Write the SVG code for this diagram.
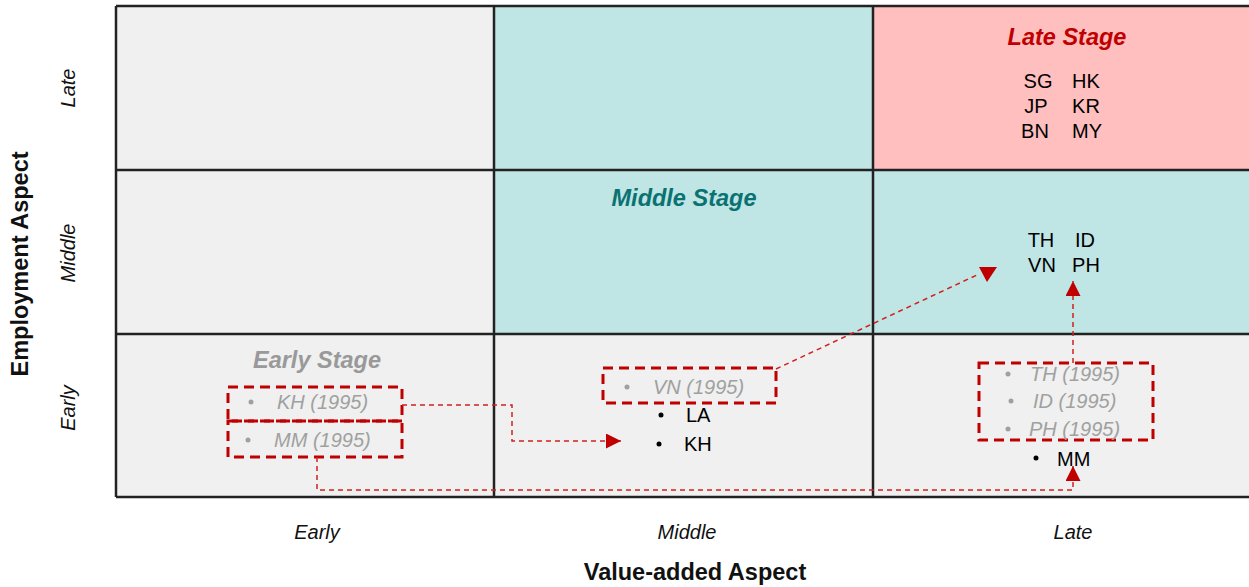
<svg xmlns="http://www.w3.org/2000/svg" width="1249" height="587" viewBox="0 0 1249 587">
<defs>
<style>
.cell-g{fill:#eff0ef}
.cell-t{fill:#bfe5e4}
.cell-p{fill:#ffbfbf}
.grid{stroke:#222;stroke-width:2.5;fill:none}
.t{font-family:"Liberation Sans",Arial,sans-serif;font-size:20px;fill:#000}
.ax{font-family:"Liberation Sans",Arial,sans-serif;font-size:20px;font-style:italic;fill:#111;text-anchor:middle}
.axt{font-family:"Liberation Sans",Arial,sans-serif;font-size:23.5px;font-weight:bold;fill:#111;text-anchor:middle}
.stage{font-family:"Liberation Sans",Arial,sans-serif;font-size:23.5px;font-weight:bold;font-style:italic;text-anchor:middle}
.old{font-family:"Liberation Sans",Arial,sans-serif;font-size:20px;font-style:italic;fill:#a0a0a0}
.box{fill:none;stroke:#c00000;stroke-width:3;stroke-dasharray:10 6}
.conn{fill:none;stroke:#d02020;stroke-width:1.5;stroke-dasharray:5 4}
.dot{fill:#000}
.gdot{fill:#a0a0a0}
</style>
<marker id="ah" viewBox="0 0 10 10" refX="10" refY="5" markerWidth="15" markerHeight="15" markerUnits="userSpaceOnUse" orient="auto">
<path d="M0,0 L10,5 L0,10 Z" fill="#c00000"/>
</marker>
</defs>

<g id="grid">
<rect class="cell-g" x="116" y="6" width="378" height="164"/>
<rect class="cell-t" x="494" y="6" width="379" height="164"/>
<rect class="cell-p" x="873" y="6" width="380" height="164"/>
<rect class="cell-g" x="116" y="170" width="378" height="164"/>
<rect class="cell-t" x="494" y="170" width="379" height="164"/>
<rect class="cell-t" x="873" y="170" width="380" height="164"/>
<rect class="cell-g" x="116" y="334" width="1137" height="163"/>
<path class="grid" d="M116,6 H1253 M116,170 H1253 M116,334 H1253 M116,497 H1253 M116,6 V497 M494,6 V497 M873,6 V497"/>
</g>

<g id="axes">
<text class="ax" x="317" y="539">Early</text>
<text class="ax" x="687" y="539">Middle</text>
<text class="ax" x="1073" y="539">Late</text>
<text class="axt" x="695" y="580">Value-added Aspect</text>
<text class="ax" transform="translate(75,88) rotate(-90)">Late</text>
<text class="ax" transform="translate(75,253) rotate(-90)">Middle</text>
<text class="ax" transform="translate(75,408) rotate(-90)">Early</text>
<text class="axt" transform="translate(28,264) rotate(-90)">Employment Aspect</text>
</g>

<g id="late-stage">
<text class="stage" x="1067" y="45" fill="#c00000">Late Stage</text>
<text class="t" x="1038" y="88" text-anchor="middle">SG</text>
<text class="t" x="1086" y="88" text-anchor="middle">HK</text>
<text class="t" x="1036" y="113" text-anchor="middle">JP</text>
<text class="t" x="1086" y="113" text-anchor="middle">KR</text>
<text class="t" x="1035" y="138" text-anchor="middle">BN</text>
<text class="t" x="1087" y="138" text-anchor="middle">MY</text>
</g>

<g id="middle-stage">
<text class="stage" x="684" y="206" fill="#0a7272">Middle Stage</text>
<text class="t" x="1041" y="247" text-anchor="middle">TH</text>
<text class="t" x="1085" y="247" text-anchor="middle">ID</text>
<text class="t" x="1042" y="272" text-anchor="middle">VN</text>
<text class="t" x="1086" y="272" text-anchor="middle">PH</text>
</g>

<g id="early-stage">
<text class="stage" x="317" y="368" fill="#999999">Early Stage</text>
</g>

<g id="kh-1995">
<rect class="box" x="228" y="387" width="174" height="34"/>
<circle class="gdot" cx="251" cy="402" r="2.5"/>
<text class="old" x="277" y="409">KH (1995)</text>
</g>

<g id="mm-1995">
<rect class="box" x="228" y="421" width="174" height="36"/>
<circle class="gdot" cx="248" cy="440" r="2.5"/>
<text class="old" x="274" y="447">MM (1995)</text>
</g>

<g id="vn-1995">
<rect class="box" x="603" y="368" width="173" height="35"/>
<circle class="gdot" cx="627" cy="387" r="2.5"/>
<text class="old" x="653" y="394">VN (1995)</text>
</g>

<g id="middle-col-current">
<circle class="dot" cx="661" cy="415" r="2.5"/>
<text class="t" x="686" y="422">LA</text>
<circle class="dot" cx="659" cy="444" r="2.5"/>
<text class="t" x="684" y="451">KH</text>
</g>

<g id="th-id-ph-1995">
<rect class="box" x="979" y="363" width="174" height="77"/>
<circle class="gdot" cx="1008" cy="374" r="2.5"/>
<text class="old" x="1030" y="381">TH (1995)</text>
<circle class="gdot" cx="1011" cy="401" r="2.5"/>
<text class="old" x="1033" y="408">ID (1995)</text>
<circle class="gdot" cx="1008" cy="429" r="2.5"/>
<text class="old" x="1029" y="436">PH (1995)</text>
</g>

<g id="late-col-current">
<circle class="dot" cx="1036" cy="458" r="2.5"/>
<text class="t" x="1057" y="466">MM</text>
</g>

<g id="connectors">
<path class="conn" d="M402,405 H512 V441 H621" marker-end="url(#ah)"/>
<path class="conn" d="M317,457 V490 H1073 V466" marker-end="url(#ah)"/>
<path class="conn" d="M1073,363 V281" marker-end="url(#ah)"/>
<path class="conn" d="M776,369 L979,274"/>
<polygon points="979,267 997,267 987,282" fill="#c00000"/>
</g>
</svg>
